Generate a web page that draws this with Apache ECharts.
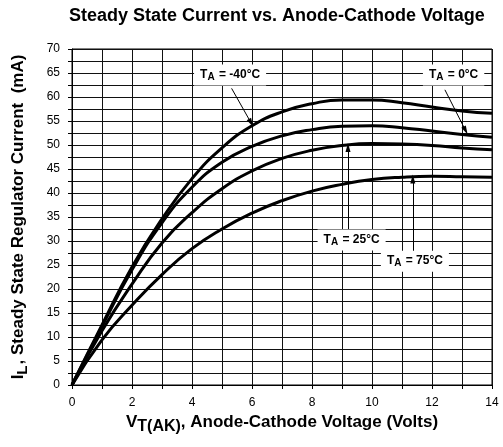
<!DOCTYPE html>
<html>
<head>
<meta charset="utf-8">
<script src="https://cdn.jsdelivr.net/npm/echarts@6/dist/echarts.min.js"></script>
<style>
    html, body { margin: 0; padding: 0; background: #fff; }
    #chart { width: 503px; height: 447px; }
</style>
</head>
<body>
<div id="chart"></div>
<script>
// anode-cathode voltage (V)
const voltage = [0, 1, 2, 3, 4, 5, 6, 7, 8, 9, 10, 11, 12, 13, 14];

// regulator current (mA) per ambient temperature
const currentM40 = [0, 12.5, 24.6, 34.6, 43.0, 49.4, 54.0, 56.9, 58.6, 59.4, 59.4, 58.8, 57.9, 57.1, 56.6];
const current0 = [0, 12.2, 24.0, 33.8, 41.2, 46.4, 49.7, 51.9, 53.2, 53.9, 54.0, 53.6, 52.9, 52.2, 51.6];
const current25 = [0, 11.3, 21.0, 29.6, 35.9, 40.9, 44.6, 47.2, 48.9, 49.9, 50.3, 50.2, 49.9, 49.4, 49.0];
const current75 = [0, 9.4, 16.6, 23.0, 28.4, 32.5, 35.8, 38.4, 40.4, 41.8, 42.8, 43.3, 43.5, 43.4, 43.3];

// annotation labels: temperature text, label position, arrow start and tip
const tempLabels = ['-40°C', '0°C', '25°C', '75°C'];
const labelAt = [[5.27, 64.6], [12.72, 64.6], [9.32, 30.2], [11.43, 25.8]];
const arrowFrom = [[5.32, 61.8], [12.43, 61.5], [9.2, 31.5], [11.36, 27.5]];
const arrowTo = [[5.97, 54.6], [13.12, 53.0], [9.2, 49.5], [11.36, 42.9]];

const curves = [currentM40, current0, current25, current75];

const myChart = echarts.init(document.getElementById('chart'));

const fontFamily = '"Liberation Sans", Arial, sans-serif';

const labelRich = {
    t: { fontSize: 12, fontWeight: 'bold', color: '#000', fontFamily, lineHeight: 14, verticalAlign: 'top' },
    s: { fontSize: 10, fontWeight: 'bold', color: '#000', fontFamily, lineHeight: 14, padding: [4, 1, 0, 0], verticalAlign: 'top' }
};

const series = curves.map((values, i) => ({
    type: 'line',
    name: tempLabels[i],
    data: voltage.map((v, j) => [v, values[j]]),
    smooth: 0.5,
    symbol: 'none',
    animation: false,
    lineStyle: { color: '#000', width: 3 },
    markLine: {
        silent: true,
        animation: false,
        symbol: ['none', 'triangle'],
        symbolSize: [5, 9],
        lineStyle: { color: '#000', width: 1, type: 'solid' },
        label: { show: false },
        data: [[{ coord: arrowFrom[i] }, { coord: arrowTo[i] }]]
    },
    markPoint: {
        silent: true,
        animation: false,
        symbol: 'rect',
        symbolSize: 0,
        label: {
            show: true,
            position: 'inside',
            backgroundColor: '#fff',
            padding: [4, 6, 3, 6],
            formatter: '{t|T}{s|A}{t| = ' + tempLabels[i] + '}',
            rich: labelRich
        },
        data: [{ coord: labelAt[i] }]
    }
}));

const option = {
    animation: false,
    title: {
        text: 'Steady State Current vs. Anode-Cathode Voltage',
        left: 64,
        top: 2,
        textStyle: { fontSize: 18, fontWeight: 'bold', color: '#000', fontFamily }
    },
    grid: {
        left: 72,
        right: 11,
        top: 49,
        bottom: 62,
        show: true,
        borderColor: '#000',
        borderWidth: 1
    },
    xAxis: {
        type: 'value',
        min: 0,
        max: 14,
        interval: 1,
        name: '{b|V}{s|T(AK)}{b|, Anode-Cathode Voltage (Volts)}',
        nameLocation: 'middle',
        nameGap: 26,
        nameTextStyle: {
            rich: {
                b: { fontSize: 17, fontWeight: 'bold', color: '#000', fontFamily, lineHeight: 18, verticalAlign: 'top' },
                s: { fontSize: 16, fontWeight: 'bold', color: '#000', fontFamily, lineHeight: 18, padding: [5, 0, 0, 0], verticalAlign: 'top' }
            }
        },
        axisLine: { lineStyle: { color: '#000', width: 1 } },
        axisTick: { show: true, inside: false, length: 4, lineStyle: { color: '#000' } },
        axisLabel: {
            fontSize: 12,
            color: '#000',
            fontFamily,
            margin: 12,
            formatter: (v) => (v % 2 === 0 ? String(v) : '')
        },
        splitLine: { show: true, lineStyle: { color: '#111', width: 1 } }
    },
    yAxis: {
        type: 'value',
        min: 0,
        max: 70,
        interval: 2.5,
        name: '{b|I}{s|L}{b|, Steady State Regulator Current  (mA)}',
        nameLocation: 'middle',
        nameRotate: 90,
        nameGap: 44,
        nameTextStyle: {
            rich: {
                b: { fontSize: 17, fontWeight: 'bold', color: '#000', fontFamily, lineHeight: 18, verticalAlign: 'top' },
                s: { fontSize: 15, fontWeight: 'bold', color: '#000', fontFamily, lineHeight: 18, padding: [5, 1, 0, 0], verticalAlign: 'top' }
            }
        },
        axisLine: { show: true, lineStyle: { color: '#000', width: 1 } },
        axisTick: { show: true, inside: false, length: 4, lineStyle: { color: '#000' } },
        axisLabel: {
            fontSize: 12,
            color: '#000',
            fontFamily,
            margin: 12,
            formatter: (v) => (v % 5 === 0 ? String(v) : '')
        },
        splitLine: { show: true, lineStyle: { color: '#111', width: 1 } }
    },
    series: series
};

myChart.setOption(option);

window.onresize = function () {
    myChart.resize();
};
</script>
</body>
</html>
